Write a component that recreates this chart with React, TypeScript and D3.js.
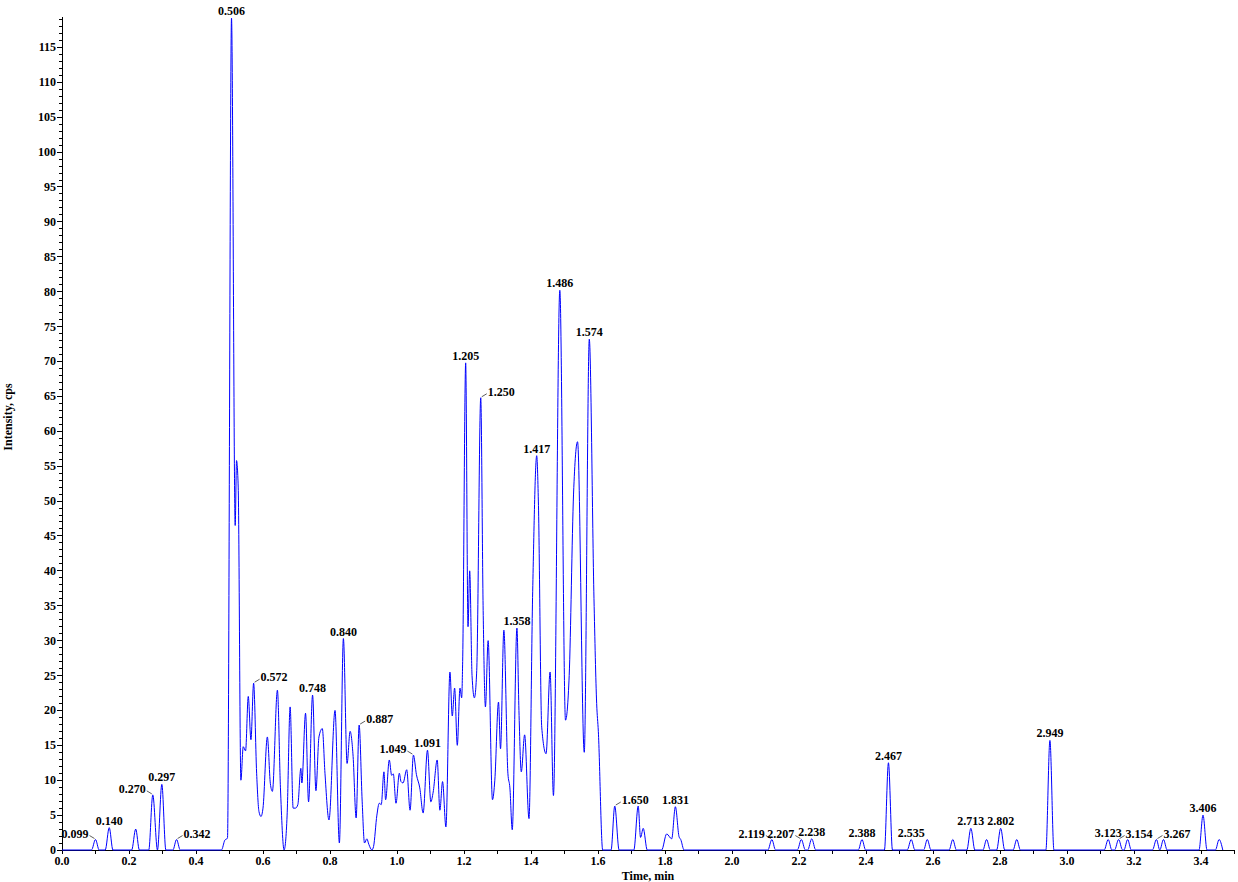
import React from "react";
import * as d3 from "d3";

// ---- Data ----
const TIMES = [
  0.000, 0.088, 0.100, 0.111, 0.129, 0.141, 0.152, 0.208, 0.220, 0.231,
  0.259, 0.271, 0.285, 0.298, 0.310, 0.331, 0.342, 0.353, 0.476, 0.486,
  0.494, 0.506, 0.517, 0.521, 0.526, 0.534, 0.541, 0.548, 0.556, 0.564,
  0.572, 0.581, 0.588, 0.594, 0.600, 0.613, 0.622, 0.628, 0.643, 0.652,
  0.663, 0.672, 0.681, 0.690, 0.697, 0.704, 0.713, 0.716, 0.727, 0.736,
  0.748, 0.758, 0.767, 0.777, 0.785, 0.797, 0.815, 0.828, 0.840, 0.851,
  0.860, 0.869, 0.878, 0.887, 0.896, 0.903, 0.910, 0.916, 0.925, 0.930,
  0.940, 0.947, 0.953, 0.961, 0.966, 0.977, 0.984, 0.989, 0.997, 1.007,
  1.012, 1.018, 1.029, 1.039, 1.049, 1.058, 1.068, 1.078, 1.091, 1.101,
  1.108, 1.120, 1.128, 1.136, 1.146, 1.158, 1.165, 1.172, 1.180, 1.188,
  1.193, 1.196, 1.205, 1.212, 1.217, 1.224, 1.231, 1.238, 1.250, 1.257,
  1.264, 1.272, 1.285, 1.292, 1.303, 1.309, 1.319, 1.331, 1.337, 1.344,
  1.358, 1.364, 1.371, 1.381, 1.394, 1.405, 1.417, 1.422, 1.432, 1.445,
  1.457, 1.467, 1.486, 1.503, 1.514, 1.527, 1.539, 1.559, 1.574, 1.588,
  1.596, 1.601, 1.614, 1.639, 1.650, 1.663, 1.707, 1.720, 1.727, 1.735,
  1.747, 1.790, 1.805, 1.820, 1.831, 1.842, 1.847, 1.857, 2.107, 2.119,
  2.130, 2.195, 2.207, 2.219, 2.226, 2.238, 2.250, 2.377, 2.388, 2.399,
  2.455, 2.467, 2.479, 2.523, 2.535, 2.546, 2.572, 2.583, 2.594, 2.648,
  2.659, 2.670, 2.701, 2.713, 2.725, 2.749, 2.760, 2.771, 2.790, 2.802,
  2.814, 2.839, 2.850, 2.861, 2.937, 2.949, 2.961, 3.111, 3.123, 3.134,
  3.142, 3.154, 3.166, 3.170, 3.181, 3.192, 3.255, 3.267, 3.277, 3.288,
  3.299, 3.394, 3.406, 3.418, 3.443, 3.454, 3.465,
];

const INTENSITIES = [
  0, 0, 1.5, 0, 0, 3.2, 0, 0, 3.0, 0,
  0, 7.9, 0, 9.4, 0, 0, 1.5, 0, 0, 1.4,
  1.7, 119.2, 46.5, 55.8, 52, 10, 14.8, 14.2, 22, 15.8,
  23.9, 11, 5.5, 4.8, 6, 16.2, 9.5, 8.4, 22.9, 9,
  0, 5, 20.5, 6, 6, 6.5, 11.7, 9.6, 19.6, 6.9,
  22.2, 8.5, 16.2, 17.4, 11, 4.3, 20, 1, 30.3, 12.4,
  17, 13.4, 4.6, 17.9, 7, 1, 1.6, 0.8, 0, 0.5,
  5, 6.7, 6.5, 11.2, 7.2, 12.9, 10.7, 10.9, 6.7, 11,
  9.8, 9.6, 11.5, 5.7, 13.6, 10.8, 8.9, 5.3, 14.3, 6.9,
  8.3, 12.9, 5.7, 9.8, 3.3, 25.5, 19.2, 23.2, 15, 23.2,
  21.8, 27, 69.8, 32, 40, 25, 21.8, 25.7, 64.8, 35,
  20.5, 30, 7.2, 10, 21.2, 14.5, 31.5, 11, 8.9, 2.9,
  31.8, 20, 11.2, 16.5, 4.5, 37, 56.5, 50, 17.6, 13.8,
  25.5, 7.8, 80.2, 18.6, 25, 51, 58.5, 14, 73.2, 36,
  21, 17, 0, 0, 6.3, 0, 0, 6.3, 1.8, 3.1,
  0, 0, 2.3, 1.6, 6.2, 1.9, 1.5, 0, 0, 1.5,
  0, 0, 1.5, 0, 0, 1.6, 0, 0, 1.5, 0,
  0, 12.5, 0, 0, 1.5, 0, 0, 1.5, 0, 0,
  1.5, 0, 0, 3.1, 0, 0, 1.5, 0, 0, 3.1,
  0, 0, 1.5, 0, 0, 15.7, 0, 0, 1.5, 0,
  0, 1.5, 0, 0, 1.5, 0, 0, 1.5, 0, 1.5,
  0, 0, 5.0, 0, 0, 1.5, 0,
];

const LABEL_TEXTS = [
  "0.099", "0.140", "0.270", "0.297", "0.342", "0.506", "0.572", "0.748",
  "0.840", "0.887", "1.049", "1.091", "1.205", "1.250", "1.358", "1.417",
  "1.486", "1.574", "1.650", "1.831", "2.119", "2.207", "2.238", "2.388",
  "2.467", "2.535", "2.713", "2.802", "2.949", "3.123", "3.154", "3.267",
  "3.406",
];
// label placement relative to its peak: c = centred above, l = to the left, r = to the right
const LABEL_SIDES = [
  "l", "c", "l", "c", "r", "c", "r", "c",
  "c", "r", "l", "c", "c", "r", "c", "c",
  "c", "c", "r", "c", "l", "l", "c", "c",
  "c", "c", "c", "c", "c", "c", "r", "r",
  "c",
];

const X_TICK_LABELS = ["0.0", "0.2", "0.4", "0.6", "0.8", "1.0", "1.2", "1.4", "1.6", "1.8",
  "2.0", "2.2", "2.4", "2.6", "2.8", "3.0", "3.2", "3.4"];
const Y_TICK_LABELS = [0, 5, 10, 15, 20, 25, 30, 35, 40, 45, 50, 55, 60, 65, 70, 75, 80, 85, 90,
  95, 100, 105, 110, 115];

const W = 1238;
const H = 882;
const FONT = "'Liberation Serif', 'Times New Roman', serif";

export default function App() {
  const x = d3.scaleLinear().domain([0, 3.5]).range([62, 1234.5]);
  const y = d3.scaleLinear().domain([0, 119.4]).range([850, 16.7]);

  const pts: [number, number][] = TIMES.map((t, i) => [t, INTENSITIES[i]]);
  const line = d3
    .line<[number, number]>()
    .x((d) => x(d[0]))
    .y((d) => y(d[1]))
    .curve(d3.curveMonotoneX);

  const xMinor = d3.range(0, 36).map((i) => i / 10);
  const yMinor = d3.range(0, 120);

  const labels = LABEL_TEXTS.map((txt, i) => {
    const t = parseFloat(txt);
    let best = 0;
    let bd = Infinity;
    TIMES.forEach((tt, j) => {
      const dd = Math.abs(tt - t);
      if (dd < bd) {
        bd = dd;
        best = j;
      }
    });
    const px = x(TIMES[best]);
    const py = y(INTENSITIES[best]);
    return { txt, side: LABEL_SIDES[i], px, py };
  });

  return (
    <div style={{ position: "absolute", left: 0, top: 0 }}>
      <svg width={W} height={H} style={{ display: "block", background: "#fff" }}>
        {/* axes */}
        <g shapeRendering="crispEdges" stroke="#000" strokeWidth={1}>
          <line x1={62} x2={62} y1={16.7} y2={850} />
          <line x1={62} x2={1235} y1={850} y2={850} />
          {yMinor.map((v) => (
            <line key={"ym" + v} x1={v % 5 === 0 ? 57 : 59} x2={62} y1={y(v)} y2={y(v)} />
          ))}
          {xMinor.map((v) => (
            <line key={"xm" + v} x1={x(v)} x2={x(v)} y1={850} y2={854} />
          ))}
        </g>
        <g fontFamily={FONT} fontWeight="bold" fontSize={12} fill="#000">
          {Y_TICK_LABELS.map((v) => (
            <text key={"yl" + v} x={56} y={y(v) + 4} textAnchor="end">
              {v}
            </text>
          ))}
          {X_TICK_LABELS.map((s) => (
            <text key={"xl" + s} x={x(parseFloat(s))} y={865} textAnchor="middle">
              {s}
            </text>
          ))}
          <text x={648} y={880} textAnchor="middle">
            Time, min
          </text>
          <text transform="translate(12,417) rotate(-90)" textAnchor="middle">
            Intensity, cps
          </text>
        </g>

        {/* trace */}
        <path d={line(pts) || ""} fill="none" stroke="#0000ff" strokeWidth={1} />

        {/* peak labels */}
        <g fontFamily={FONT} fontWeight="bold" fontSize={12} fill="#000">
          {labels.map((l, i) => {
            if (l.side === "c") {
              return (
                <text key={"pl" + i} x={l.px} y={l.py - 3} textAnchor="middle">
                  {l.txt}
                </text>
              );
            }
            const dir = l.side === "r" ? 1 : -1;
            return (
              <g key={"pl" + i}>
                <line
                  x1={l.px + dir * 1}
                  y1={l.py - 1}
                  x2={l.px + dir * 6}
                  y2={l.py - 4}
                  stroke="#333"
                  strokeWidth={0.8}
                />
                <text x={l.px + dir * 7} y={l.py - 2} textAnchor={dir > 0 ? "start" : "end"}>
                  {l.txt}
                </text>
              </g>
            );
          })}
        </g>
      </svg>
    </div>
  );
}
